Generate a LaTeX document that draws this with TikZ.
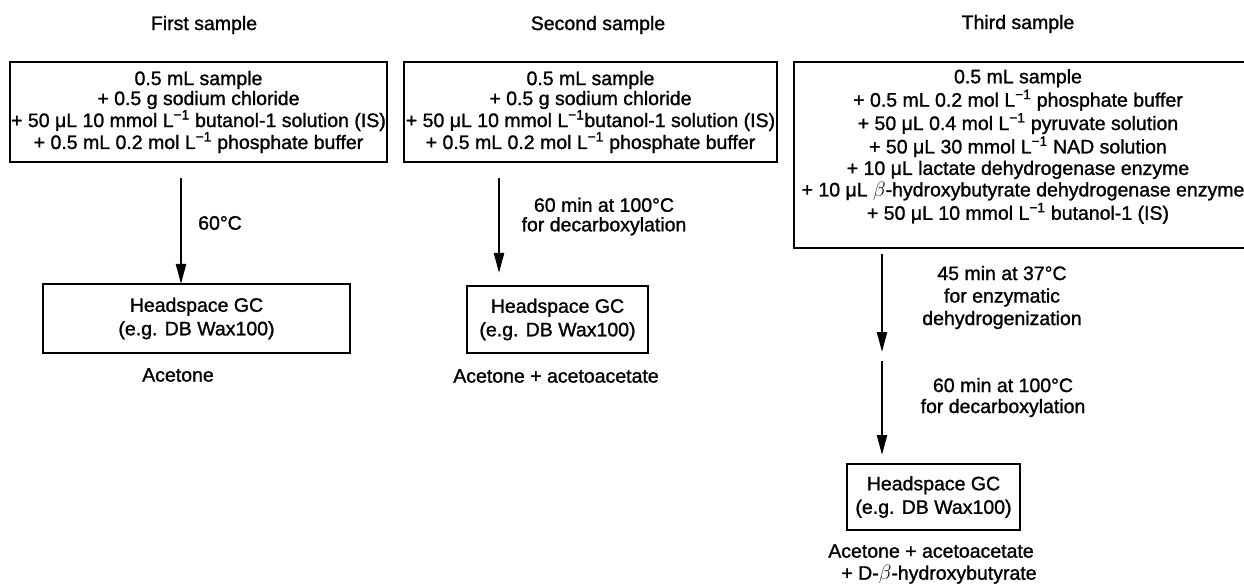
\documentclass[tikz,border=0pt]{standalone}
\usepackage{fontspec}
\setmainfont{Liberation Sans}[FakeBold=1.2]
\usetikzlibrary{arrows.meta}
\newcommand{\Linv}{L\textsuperscript{−1}}
\begin{document}
\begin{tikzpicture}[x=1pt,y=-1pt,
  every node/.style={inner sep=0pt, outer sep=0pt},
  lbl/.style={font=\fontsize{19.5}{20}\selectfont, align=center},
  frame/.style={draw, line width=2.8pt, font=\fontsize{19.5}{20}\selectfont, align=center},
  gcbox/.style={draw, line width=2.4pt, font=\fontsize{19.5}{23.5}\selectfont, align=center},
  arr/.style={line width=2.2pt, -{Triangle[length=20pt,width=10pt]}},
]
\useasboundingbox (0,0) rectangle (1244,585);

% titles
\node[lbl] (title1) at (204,25) {First sample};
\node[lbl] (title2) at (598,25) {Second sample};
\node[lbl] (title3) at (1018,24) {Third sample};

% preparation boxes
\node[frame, minimum width=377pt, minimum height=100pt] (box1) at (198.5,112)
 {0.5 mL sample\\
  + 0.5 g sodium chloride\\
  + 50 μL 10 mmol \Linv{} butanol-1 solution (IS)\\
  + 0.5 mL 0.2 mol \Linv{} phosphate buffer};
\node[frame, minimum width=373pt, minimum height=100pt] (box2) at (590.5,112)
 {0.5 mL sample\\
  + 0.5 g sodium chloride\\
  + 50 μL 10 mmol \Linv{}butanol-1 solution (IS)\\
  + 0.5 mL 0.2 mol \Linv{} phosphate buffer};
\node[frame, font=\fontsize{19.5}{21.5}\selectfont, minimum width=460pt, minimum height=186pt] (box3) at (1024,155)
 {\hspace*{-12pt}\begin{tabular}{@{}c@{}}0.5 mL sample\\
  + 0.5 mL 0.2 mol \Linv{} phosphate buffer\\
  + 50 μL 0.4 mol \Linv{} pyruvate solution\\
  + 50 μL 30 mmol \Linv{} NAD solution\\
  + 10 μL lactate dehydrogenase enzyme\\
  \hspace*{10pt}+ 10 μL $\beta$-hydroxybutyrate dehydrogenase enzyme\\
  + 50 μL 10 mmol \Linv{} butanol-1 (IS)\rule[-22pt]{0pt}{22pt}\end{tabular}};

% GC boxes
\node[gcbox, minimum width=307pt, minimum height=69pt] (h1) at (196.5,318.5)
 {Headspace GC\\(e.g. DB Wax100)};
\node[gcbox, minimum width=181pt, minimum height=67pt] (h2) at (557.5,319.5)
 {Headspace GC\\(e.g. DB Wax100)};
\node[gcbox, minimum width=173pt, minimum height=66pt] (h3) at (933.5,497)
 {Headspace GC\\(e.g. DB Wax100)};

% arrows
\coordinate (a1s) at (181,178);
\coordinate (a2s) at (499,178);
\coordinate (m3) at (882,356.5);
\draw[arr] (a1s) -- (a1s |- h1.north);
\draw[arr] (a2s) -- ([yshift=13pt]a2s |- h2.north);
\draw[arr] ([yshift=-6pt]box3.south -| m3) -- ([yshift=4.5pt]m3);
\draw[arr] ([yshift=-4.5pt]m3) -- ([yshift=9pt]m3 |- h3.north);

% arrow labels
\node[lbl] (l1) at (220,223) {60°C};
\node[lbl, font=\fontsize{19.5}{19.5}\selectfont] (l2) at (604,216.5) {60 min at 100°C\\for decarboxylation};
\node[lbl, font=\fontsize{19.5}{22.5}\selectfont] (l3a) at (1002,297.5) {45 min at 37°C\\for enzymatic\\dehydrogenization};
\node[lbl, font=\fontsize{19.5}{21}\selectfont] (l3b) at (1003,397.5) {60 min at 100°C\\for decarboxylation};

% results
\node[lbl] (r1) at (178,375) {Acetone};
\node[lbl] (r2) at (556,376) {Acetone + acetoacetate};
\node[lbl, font=\fontsize{19.5}{22}\selectfont] (r3) at (931,564) {Acetone + acetoacetate\\\hspace*{16pt}+ D-$\beta$-hydroxybutyrate};
\end{tikzpicture}
\end{document}
